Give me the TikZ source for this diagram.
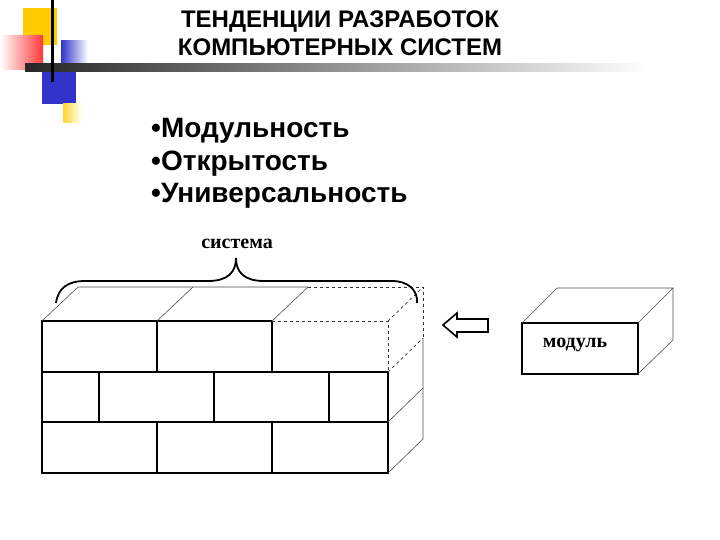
\documentclass[tikz,border=0pt]{standalone}
\usepackage{fontspec}
\setmainfont{Liberation Sans}
\newfontfamily\serifru{Liberation Serif}
\definecolor{jaune}{HTML}{FFCC00}
\definecolor{rouge}{HTML}{FF3838}
\definecolor{bleu}{HTML}{3333CC}
\tikzset{
  face/.style={black,line width=1.1pt},
  arete/.style={black!70,line width=0.6pt},
  cache/.style={black!80,line width=0.7pt,dashed},
  titre/.style={font=\fontsize{24}{28}\selectfont\bfseries,align=center},
  puce/.style={font=\fontsize{28}{30}\selectfont\bfseries,anchor=base west,inner sep=0pt},
  etiquette/.style={font=\serifru\fontsize{20}{22}\selectfont\bfseries}
}
\begin{document}
\begin{tikzpicture}[x=1pt,y=-1pt]
\useasboundingbox (0,0) rectangle (720,540);
% Decor du coin
\fill[jaune] (23,8) rectangle (57,45);
\shade[left color=white,right color=rouge] (0,36) rectangle (43,70);
\shade[left color=bleu,right color=white] (61,41) rectangle (88,67);
\shade[left color=black!85,right color=white] (25,64) rectangle (650,72);
\fill[bleu] (42,72) rectangle (76,104);
\shade[left color=jaune!80,right color=white] (63,104) rectangle (82,123);
\draw[line width=3pt] (52,0) -- (52,82);

% Titre
\node[titre] (titre) at (340,33) {ТЕНДЕНЦИИ РАЗРАБОТОК\\КОМПЬЮТЕРНЫХ СИСТЕМ};

% Liste
\node[puce] (modul) at (151,138) {•Модульность};
\node[puce] (otkr) at (151,171) {•Открытость};
\node[puce] (univ) at (151,203) {•Универсальность};

% Mur : face avant
\draw[face] (272,321) -- (42,321) -- (42,473) -- (388,473) -- (388,372);
\draw[face] (42,372) -- (388,372) (42,422) -- (388,422);
\draw[face] (157,321) -- (157,372) (272,321) -- (272,372);
\draw[face] (99,372) -- (99,422) (214,372) -- (214,422) (329,372) -- (329,422);
\draw[face] (157,422) -- (157,473) (272,422) -- (272,473);
% Mur : dessus et cote
\draw[arete] (42,321) -- (78,287) -- (308,287);
\draw[arete] (157,321) -- (193,287) (272,321) -- (308,287);
\draw[arete] (423,338) -- (423,439) -- (388,473);
\draw[arete] (388,422) -- (423,388);
% Module manquant
\draw[cache] (272,321) -- (388,321) -- (388,372);
\draw[cache] (308,287) -- (423,287) -- (423,338);
\draw[cache] (388,321) -- (423,287) (388,372) -- (423,338);

% Accolade
\draw[line width=1.8pt] (56,303) .. controls (58,288) and (68,281) .. (85,281)
  -- (208,281) .. controls (228,281) and (236,272) .. (236,258)
  .. controls (236,272) and (244,281) .. (264,281)
  -- (392,281) .. controls (408,281) and (418,290) .. (417,303);
\node[etiquette] (sys) at (237,244) {система};

% Fleche creuse
\draw[line width=1.6pt] (443,325) -- (457,313) -- (457,319) -- (488,319)
  -- (488,332) -- (457,332) -- (457,337) -- cycle;

% Module
\draw[face] (522,323) rectangle (638,374);
\draw[arete] (522,323) -- (557,288) -- (673,288) -- (638,323);
\draw[arete] (673,288) -- (673,340) -- (638,374);
\node[etiquette] (mod) at (575,345) {модуль};
\end{tikzpicture}
\end{document}
